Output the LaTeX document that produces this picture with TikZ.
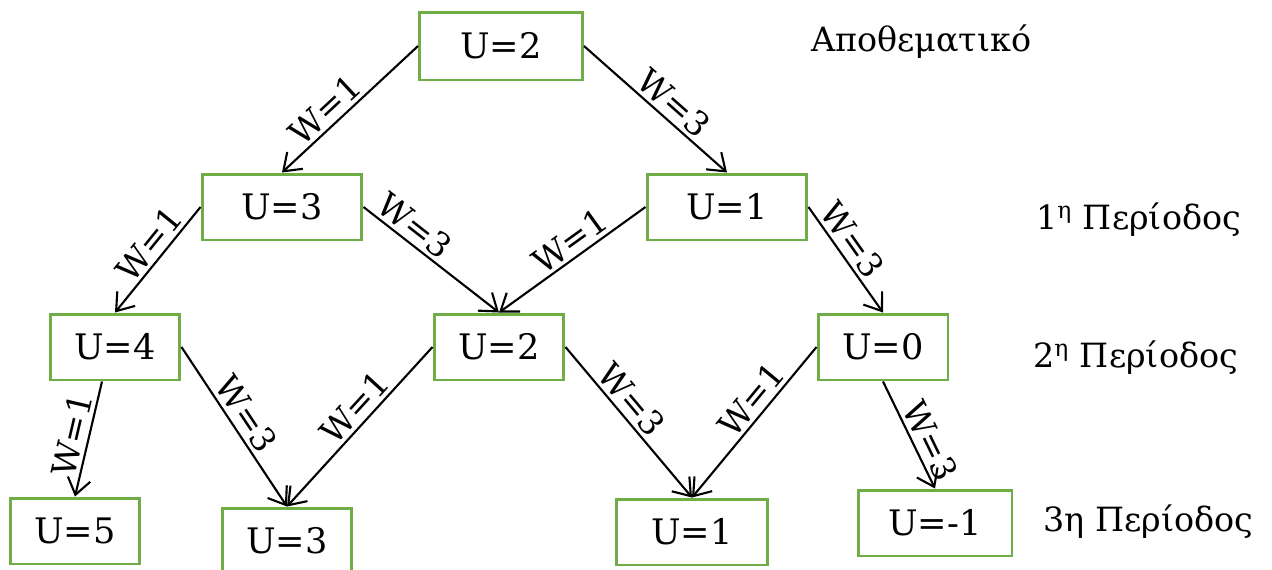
\documentclass[tikz,border=0pt]{standalone}
\usepackage{fontspec}
\setmainfont{DejaVu Serif}
\usetikzlibrary{arrows.meta}
\definecolor{boxgreen}{HTML}{70AD47}
\tikzset{
    ubox/.style={rectangle, draw=boxgreen, line width=1.7pt,
        minimum width=2.6cm, minimum height=1.32cm, inner sep=0pt,
        font=\fontsize{20}{24}\selectfont},
    arr/.style={-{Straight Barb[length=3.2mm, width=4.6mm]}, line width=1.2pt},
    wlbl/.style={font=\fontsize{19}{23}\selectfont, sloped, above,
        pos=0.45, inner sep=2pt},
    period/.style={font=\fontsize{19}{23}\selectfont, anchor=west},
}

\begin{document}
\begin{tikzpicture}[x=0.02cm, y=-0.02cm]
\useasboundingbox (0,0) rectangle (1272,569);

% ================================================================
%  RESERVE (TOP)
% ================================================================

\node[ubox, minimum width=3.26cm, minimum height=1.36cm] (top) at (501, 46) {U=2};

% ================================================================
%  FIRST PERIOD
% ================================================================

\node[ubox, minimum width=3.2cm] (oneA) at (282, 207) {U=3};
\node[ubox, minimum width=3.2cm] (oneB) at (727, 207) {U=1};

% ================================================================
%  SECOND PERIOD
% ================================================================

\node[ubox] (twoA) at (115, 347) {U=4};
\node[ubox] (twoB) at (499, 347) {U=2};
\node[ubox] (twoC) at (883, 347) {U=0};

% ================================================================
%  THIRD PERIOD
% ================================================================

\node[ubox] (thrA) at (75, 531) {U=5};
\node[ubox] (thrB) at (287, 541) {U=3};
\node[ubox, minimum width=3.04cm] (thrC) at (692, 532) {U=1};
\node[ubox, minimum width=3.08cm] (thrD) at (935, 523) {U=-1};

% ================================================================
%  ARROWS
% ================================================================

\draw[arr] (top.west) -- node[wlbl, pos=0.6] {W=1} (oneA.north);
\draw[arr] (top.east) -- node[wlbl, pos=0.55] {W=3} (oneB.north);

\draw[arr] (oneA.west) -- node[wlbl] {W=1} (twoA.north);
\draw[arr] (oneA.east) -- node[wlbl, pos=0.3] {W=3} (twoB.north);
\draw[arr] (oneB.west) -- node[wlbl] {W=1} (twoB.north);
\draw[arr] (oneB.east) -- node[wlbl, pos=0.4] {W=3} (twoC.north);

\draw[arr] ([xshift=-0.26cm]twoA.south) -- node[wlbl, pos=0.5] {W=1} (thrA.north);
\draw[arr] (twoA.east) -- node[wlbl, pos=0.48] {W=3} (thrB.north);
\draw[arr] (twoB.west) -- node[wlbl] {W=1} (thrB.north);
\draw[arr] (twoB.east) -- node[wlbl, pos=0.42] {W=3} (thrC.north);
\draw[arr] (twoC.west) -- node[wlbl, pos=0.42] {W=1} (thrC.north);
\draw[arr] (twoC.south) -- node[wlbl, pos=0.62] {W=3} (thrD.north);

% ================================================================
%  PERIOD LABELS
% ================================================================

\node[period] (lblres) at (805, 42)  {Αποθεματικό};
\node[period] (lblone) at (1030, 220) {1\textsuperscript{η} Περίοδος};
\node[period] (lbltwo) at (1027, 358) {2\textsuperscript{η} Περίοδος};
\node[period] (lblthr) at (1037, 522) {3η Περίοδος};

\end{tikzpicture}
\end{document}
